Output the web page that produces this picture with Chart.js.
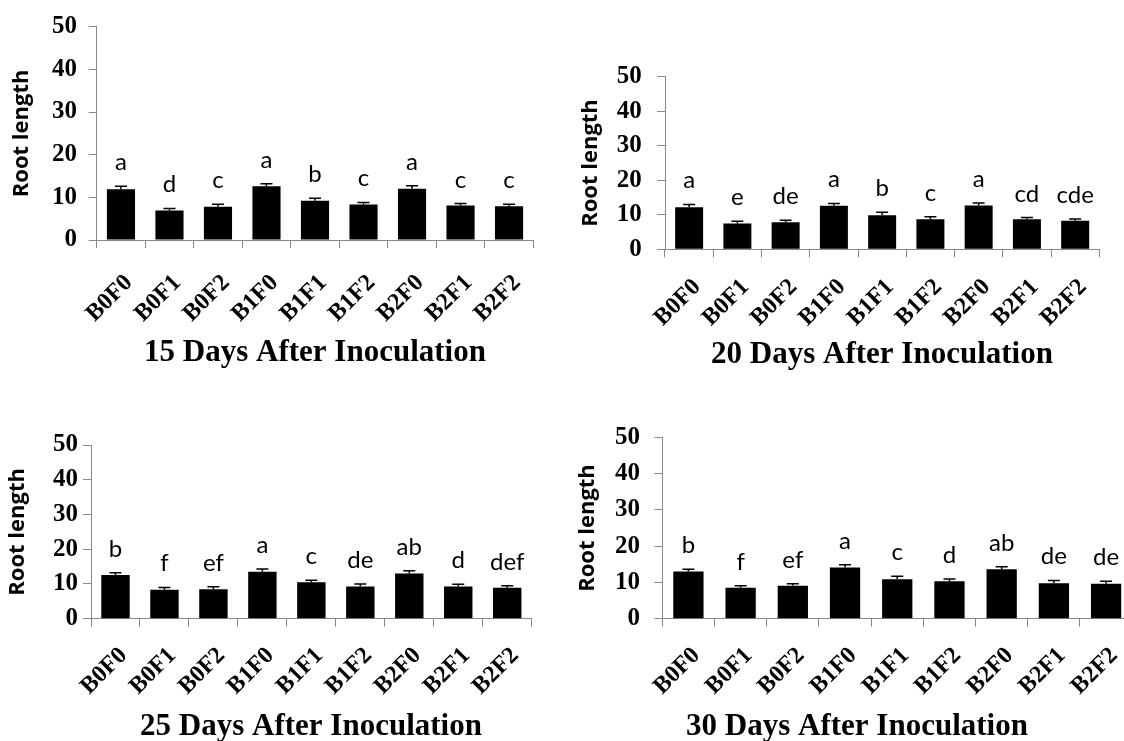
<!DOCTYPE html>
<html>
<head>
<meta charset="utf-8">
<script src="https://cdn.jsdelivr.net/npm/chart.js@4.4.1/dist/chart.umd.min.js"></script>
<style>
  html, body { margin: 0; padding: 0; background: #fff; overflow: hidden; }
  body { width: 1124px; height: 741px; position: relative; }
  canvas { position: absolute; }
</style>
</head>
<body>
<canvas id="c15" width="562" height="370" style="left:0;top:0"></canvas>
<canvas id="c20" width="562" height="370" style="left:562px;top:0"></canvas>
<canvas id="c25" width="562" height="371" style="left:0;top:370px"></canvas>
<canvas id="c30" width="580" height="371" style="left:562px;top:370px"></canvas>
<script>
const treatments = ['B0F0', 'B0F1', 'B0F2', 'B1F0', 'B1F1', 'B1F2', 'B2F0', 'B2F1', 'B2F2'];

const root15 = [11.9, 6.9, 7.8, 12.6, 9.2, 8.3, 12.0, 8.1, 7.9];
const err15 = [0.7, 0.5, 0.6, 0.6, 0.6, 0.5, 0.7, 0.45, 0.5];
const letters15 = ['a', 'd', 'c', 'a', 'b', 'c', 'a', 'c', 'c'];

const root20 = [12.2, 7.5, 7.8, 12.6, 9.9, 8.7, 12.7, 8.7, 8.3];
const err20 = [0.8, 0.6, 0.6, 0.7, 0.8, 0.7, 0.7, 0.5, 0.5];
const letters20 = ['a', 'e', 'de', 'a', 'b', 'c', 'a', 'cd', 'cde'];

const root25 = [12.6, 8.3, 8.5, 13.5, 10.5, 9.3, 13.0, 9.3, 8.9];
const err25 = [0.6, 0.7, 0.7, 0.8, 0.6, 0.7, 0.8, 0.6, 0.6];
const letters25 = ['b', 'f', 'ef', 'a', 'c', 'de', 'ab', 'd', 'def'];

const root30 = [13.0, 8.5, 9.1, 14.1, 10.9, 10.3, 13.6, 9.8, 9.6];
const err30 = [0.6, 0.6, 0.55, 0.8, 0.8, 0.65, 0.7, 0.75, 0.7];
const letters30 = ['b', 'f', 'ef', 'a', 'c', 'd', 'ab', 'de', 'de'];

const yTicks = [0, 10, 20, 30, 40, 50];

const AXIS_GREY = '#898989';

// upper error bars + significance letters above each bar
const errorLetters = {
    id: 'errorLetters',
    afterDatasetsDraw(chart, args, opts) {
        const ctx = chart.ctx;
        const yScale = chart.scales.y;
        const values = chart.data.datasets[0].data;
        const bars = chart.getDatasetMeta(0).data;
        ctx.save();
        bars.forEach((bar, i) => {
            const top = yScale.getPixelForValue(values[i] + opts.errors[i]);
            ctx.strokeStyle = '#000';
            ctx.lineWidth = 1.5;
            ctx.beginPath();
            ctx.moveTo(bar.x, bar.y);
            ctx.lineTo(bar.x, top);
            ctx.moveTo(bar.x - 6, top);
            ctx.lineTo(bar.x + 6, top);
            ctx.stroke();

            ctx.fillStyle = '#000';
            ctx.font = '24px Lato';
            ctx.textAlign = 'center';
            ctx.textBaseline = 'alphabetic';
            ctx.fillText(opts.letters[i], bar.x, top - 16);
        });
        ctx.restore();
    }
};

// panel caption under the rotated labels
const caption = {
    id: 'caption',
    afterDraw(chart, args, opts) {
        const ctx = chart.ctx;
        ctx.save();
        ctx.fillStyle = '#000';
        ctx.font = 'bold 31px "Liberation Serif"';
        ctx.textAlign = 'center';
        ctx.textBaseline = 'alphabetic';
        ctx.fillText(opts.text, opts.x, opts.y);
        ctx.restore();
    }
};

function makePanel(canvasId, values, errors, letters, title, box) {
    const ctx = document.getElementById(canvasId).getContext('2d');
    return new Chart(ctx, {
        type: 'bar',
        data: {
            labels: treatments,
            datasets: [{
                data: values,
                backgroundColor: '#000',
                borderWidth: 0,
                categoryPercentage: 1,
                barPercentage: 0.58
            }]
        },
        options: {
            responsive: false,
            animation: false,
            layout: {
                padding: { top: box.top, right: box.right, bottom: 0, left: 0 }
            },
            plugins: {
                legend: { display: false },
                tooltip: { enabled: false },
                errorLetters: { errors: errors, letters: letters },
                caption: { text: title, x: box.capX, y: box.capY }
            },
            scales: {
                x: {
                    grid: {
                        display: true,
                        drawOnChartArea: false,
                        tickLength: 8,
                        color: AXIS_GREY,
                        offset: true
                    },
                    border: { color: AXIS_GREY, width: 1 },
                    ticks: {
                        autoSkip: false,
                        minRotation: 45,
                        maxRotation: 45,
                        padding: box.xPad,
                        labelOffset: 8,
                        color: '#000',
                        font: { family: '"Liberation Serif"', size: 24, weight: 'bold' }
                    },
                    afterFit: s => { s.height = box.xHeight; }
                },
                y: {
                    min: 0,
                    max: 50,
                    afterBuildTicks: s => { s.ticks = yTicks.map(v => ({ value: v })); },
                    grid: {
                        drawOnChartArea: false,
                        tickLength: 8,
                        color: AXIS_GREY
                    },
                    border: { color: AXIS_GREY, width: 1 },
                    ticks: {
                        padding: box.yPad,
                        color: '#000',
                        font: { family: '"Liberation Serif"', size: 25, weight: 'bold' }
                    },
                    title: {
                        display: true,
                        text: 'Root length',
                        color: '#000',
                        font: { family: '"Open Sans"', size: 22, weight: 'bold' },
                        padding: { top: box.titlePad, bottom: 0 }
                    },
                    afterFit: s => { s.width = box.yWidth; }
                }
            }
        },
        plugins: [errorLetters, caption]
    });
}

makePanel('c15', root15, err15, letters15, '15 Days After Inoculation',
    { top: 25, right: 28.7, xHeight: 130, yWidth: 96.7, yPad: 11.7, xPad: 21, titlePad: 9, capX: 315, capY: 361 });
makePanel('c20', root20, err20, letters20, '20 Days After Inoculation',
    { top: 76.7, right: 24.7, xHeight: 120.7, yWidth: 103, yPad: 15.3, xPad: 16, titlePad: 16, capX: 320, capY: 363 });
makePanel('c25', root25, err25, letters25, '25 Days After Inoculation',
    { top: 75, right: 30.3, xHeight: 122.3, yWidth: 91, yPad: 5, xPad: 15, titlePad: 5, capX: 311, capY: 365 });
makePanel('c30', root30, err30, letters30, '30 Days After Inoculation',
    { top: 67.3, right: 9.7, xHeight: 122.3, yWidth: 100.3, yPad: 14.3, xPad: 15, titlePad: 13, capX: 295, capY: 365 });
</script>
</body>
</html>
